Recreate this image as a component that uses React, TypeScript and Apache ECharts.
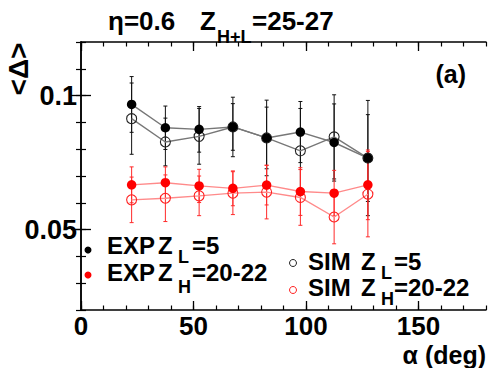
import React, { useEffect, useRef } from "react";
import * as echarts from "echarts";

const angles = [22.5, 37.5, 52.5, 67.5, 82.5, 97.5, 112.5, 127.5];
const expZL = [0.0967, 0.088, 0.0874, 0.0883, 0.0842, 0.0864, 0.0825, 0.0767];
const expZLErr = [0.0104, 0.0081, 0.0085, 0.0087, 0.0115, 0.0114, 0.0144, 0.0162];
const simZL = [0.0914, 0.0827, 0.0848, 0.0883, 0.0842, 0.0794, 0.0846, 0.0767];
const simZLErr = [0.0133, 0.0089, 0.0104, 0.0111, 0.0141, 0.0158, 0.0157, 0.0215];
const expZH = [0.0667, 0.0675, 0.0663, 0.0654, 0.0666, 0.0642, 0.0636, 0.0667];
const expZHErr = [0.0067, 0.0059, 0.0062, 0.0065, 0.0074, 0.0089, 0.0085, 0.013];
const simZH = [0.0611, 0.0617, 0.0626, 0.0636, 0.064, 0.062, 0.0547, 0.0632];
const simZHErr = [0.0085, 0.0087, 0.0074, 0.008, 0.01, 0.0104, 0.01, 0.0159];

const xMajorTicks = [0, 50, 100, 150];
const yMajorTicks = [0.05, 0.1];
const X_MIN = 0;
const X_MAX = 180;
const Y_MIN = 0.02;
const Y_MAX = 0.12;

const FONT = '"Liberation Sans", Arial, Helvetica, sans-serif';

function points(vals: number[]) {
  return angles.map((a, i) => [a, vals[i]]);
}
function errData(vals: number[], errs: number[]) {
  return angles.map((a, i) => [a, vals[i] - errs[i], vals[i] + errs[i]]);
}

function errSeries(name: string, vals: number[], errs: number[], color: string) {
  return {
    name,
    type: "custom",
    xAxisIndex: 0,
    yAxisIndex: 0,
    encode: { x: 0, y: [1, 2] },
    data: errData(vals, errs),
    silent: true,
    renderItem: (params: any, api: any) => {
      const x = api.value(0);
      const lo = api.coord([x, api.value(1)]);
      const hi = api.coord([x, api.value(2)]);
      const st = { stroke: color, lineWidth: 1 };
      const c = 2;
      return {
        type: "group",
        children: [
          { type: "line", shape: { x1: lo[0], y1: lo[1], x2: hi[0], y2: hi[1] }, style: st },
          { type: "line", shape: { x1: lo[0] - c, y1: lo[1], x2: lo[0] + c, y2: lo[1] }, style: st },
          { type: "line", shape: { x1: hi[0] - c, y1: hi[1], x2: hi[0] + c, y2: hi[1] }, style: st },
        ],
      };
    },
  };
}

function lineSeries(name: string, vals: number[], lineColor: string, markColor: string, open: boolean) {
  return {
    name,
    type: "line",
    xAxisIndex: 0,
    yAxisIndex: 0,
    data: points(vals),
    symbol: "circle",
    symbolSize: open ? 10 : 9.5,
    showAllSymbol: true,
    lineStyle: { color: lineColor, width: 1.4 },
    itemStyle: open
      ? { color: "rgba(0,0,0,0)", borderColor: markColor, borderWidth: 1.1 }
      : { color: markColor, borderWidth: 0 },
    emphasis: { disabled: true },
  };
}

function xAxisDef(position: string, major: boolean, labels: boolean) {
  return {
    type: "value",
    position,
    min: X_MIN,
    max: X_MAX,
    interval: 10,
    axisLine: { show: !major, lineStyle: { color: "#000", width: 1.5 } },
    axisTick: major
      ? { show: true, inside: true, length: 9, customValues: xMajorTicks, lineStyle: { color: "#000", width: 1.3 } }
      : { show: true, inside: true, length: 4.5, lineStyle: { color: "#000", width: 1.2 } },
    axisLabel: labels
      ? {
          show: true,
          customValues: xMajorTicks,
          margin: 3,
          fontFamily: FONT,
          fontWeight: "bold",
          fontSize: 26,
          color: "#000",
        }
      : { show: false },
    splitLine: { show: false },
  };
}

function yAxisDef(position: string, major: boolean, labels: boolean) {
  return {
    type: "value",
    position,
    min: Y_MIN,
    max: Y_MAX,
    interval: 0.01,
    axisLine: { show: !major, lineStyle: { color: "#000", width: 1.5 } },
    axisTick: major
      ? { show: true, inside: true, length: 10, customValues: yMajorTicks, lineStyle: { color: "#000", width: 1.3 } }
      : { show: true, inside: true, length: 5, lineStyle: { color: "#000", width: 1.2 } },
    axisLabel: labels
      ? {
          show: true,
          customValues: yMajorTicks,
          margin: 4,
          formatter: (v: number) => String(Number(v.toFixed(2))),
          fontFamily: FONT,
          fontWeight: "bold",
          fontSize: 27,
          color: "#000",
        }
      : { show: false },
    splitLine: { show: false },
  };
}

function txt(text: string, x: number, y: number, size: number, extra: any = {}) {
  return {
    type: "text",
    x,
    y,
    silent: true,
    ...extra,
    style: {
      text,
      fill: "#000",
      fontFamily: FONT,
      fontWeight: "bold",
      fontSize: size,
      align: extra.align || "left",
      verticalAlign: "middle",
    },
  };
}

export default function App() {
  const ref = useRef<HTMLDivElement>(null);
  useEffect(() => {
    if (!ref.current) return;
    const chart = echarts.init(ref.current, undefined, { renderer: "svg" });
    const LF = 24;
    const SF = 18;
    chart.setOption({
      animation: false,
      backgroundColor: "#fff",
      grid: { left: 81, top: 42, right: 4, bottom: 58, containLabel: false },
      xAxis: [
        xAxisDef("bottom", false, true),
        xAxisDef("bottom", true, false),
        xAxisDef("top", false, false),
        xAxisDef("top", true, false),
      ],
      yAxis: [
        yAxisDef("left", false, true),
        yAxisDef("left", true, false),
        yAxisDef("right", false, false),
        yAxisDef("right", true, false),
      ],
      series: [
        errSeries("SIM Z_L=5 err", simZL, simZLErr, "#111"),
        errSeries("EXP Z_L=5 err", expZL, expZLErr, "#111"),
        lineSeries("SIM Z_L=5", simZL, "#777", "#222", true),
        lineSeries("EXP Z_L=5", expZL, "#777", "#000", false),
        errSeries("SIM Z_H=20-22 err", simZH, simZHErr, "#ff2a2a"),
        errSeries("EXP Z_H=20-22 err", expZH, expZHErr, "#ff2a2a"),
        lineSeries("SIM Z_H=20-22", simZH, "#ff8a8a", "#ff2020", true),
        lineSeries("EXP Z_H=20-22", expZH, "#ff8a8a", "#ff0000", false),
      ],
      graphic: [
        // title
        txt("η=0.6", 108, 21, 26),
        txt("Z", 200, 21, 26),
        txt("H+L", 217, 37, SF),
        txt("=25-27", 252, 21, 26),
        // panel label
        txt("(a)", 466, 74, 25, { align: "right" }),
        // y axis title
        {
          type: "text",
          x: 18,
          y: 69,
          rotation: Math.PI / 2,
          silent: true,
          style: {
            text: "<Δ>",
            fill: "#000",
            fontFamily: FONT,
            fontWeight: "bold",
            fontSize: 28,
            align: "center",
            verticalAlign: "middle",
          },
        },
        // x axis title
        txt("α (deg)", 486, 354.5, 25, { align: "right" }),
        // legend markers
        { type: "circle", shape: { cx: 88, cy: 250, r: 3.5 }, style: { fill: "#000" }, silent: true },
        { type: "circle", shape: { cx: 88, cy: 275, r: 3.5 }, style: { fill: "#ff0000" }, silent: true },
        { type: "circle", shape: { cx: 293, cy: 263, r: 3.5 }, style: { fill: "none", stroke: "#222", lineWidth: 1 }, silent: true },
        { type: "circle", shape: { cx: 293, cy: 290, r: 3.5 }, style: { fill: "none", stroke: "#ff2020", lineWidth: 1 }, silent: true },
        // legend texts
        txt("EXP", 107, 245, LF),
        txt("Z", 158, 245, LF),
        txt("L", 178, 257, SF),
        txt("=5", 192, 245, LF),
        txt("EXP", 107, 272, LF),
        txt("Z", 158, 272, LF),
        txt("H", 178, 287, SF),
        txt("=20-22", 192, 272, LF),
        txt("SIM", 308, 261, LF),
        txt("Z", 361, 261, LF),
        txt("L", 381, 273, SF),
        txt("=5", 394, 261, LF),
        txt("SIM", 308, 287, LF),
        txt("Z", 361, 287, LF),
        txt("H", 381, 299, SF),
        txt("=20-22", 394, 287, LF),
      ],
    });
    return () => chart.dispose();
  }, []);
  return (
    <div
      ref={ref}
      style={{ position: "absolute", left: 0, top: 0, width: 490, height: 368 }}
    />
  );
}
